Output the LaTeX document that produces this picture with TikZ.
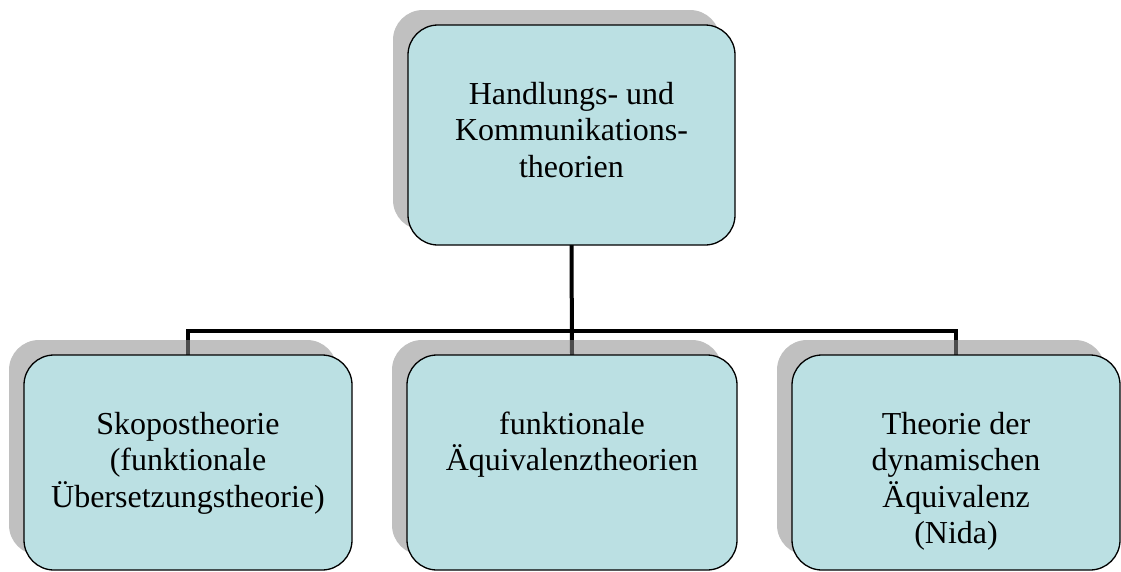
\documentclass[tikz,border=0pt]{standalone}
\usepackage{fontspec}
\setmainfont{Liberation Serif}
\usetikzlibrary{shadows}
\pgfdeclarelayer{bg}
\pgfsetlayers{bg,main}
\definecolor{boxfill}{RGB}{187,224,227}
\newcommand{\boxtext}[3]{\parbox[c][#2pt][t]{#1pt}{\centering\fontsize{32}{36.5}\selectfont\rule{0pt}{79pt}#3}}
\tikzset{
  box/.style={draw=black, line width=1.3pt, fill=boxfill, rounded corners=30pt,
    inner sep=0pt, outer sep=0pt,
    drop shadow={shadow xshift=-15pt, shadow yshift=15pt, fill=black!45, opacity=0.55}},
  conn/.style={line width=4pt, draw=black}
}
\begin{document}
\begin{tikzpicture}[x=1pt,y=-1pt]
\useasboundingbox (0,0) rectangle (1121,571);
\node[box] (top) at (571.5,135) {\boxtext{327}{220}{Handlungs- und\\Kommunikations-\\theorien}};
\node[box] (left) at (188,462.5) {\boxtext{328}{215}{Skopostheorie\\(funktionale\\Übersetzungstheorie)}};
\node[box] (mid) at (572,462.5) {\boxtext{330}{215}{funktionale\\Äquivalenztheorien}};
\node[box] (right) at (956,462.5) {\boxtext{328}{215}{Theorie der\\dynamischen\\Äquivalenz\\(Nida)}};
\coordinate (bus) at (572,331);
\begin{pgfonlayer}{bg}
\draw[conn] (top.south) -- (mid.north);
\draw[conn] (left.north) |- (bus) -| (right.north);
\end{pgfonlayer}
\end{tikzpicture}
\end{document}
